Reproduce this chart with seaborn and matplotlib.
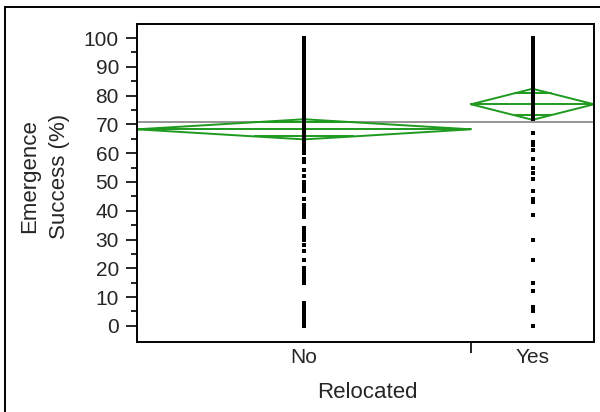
import numpy as np
import pandas as pd
import seaborn as sns
import matplotlib
matplotlib.use("Agg")
import matplotlib.pyplot as plt
from matplotlib.patches import Rectangle

# ---------------- data ----------------
categories = ["No", "Yes"]
group_share = [0.731, 0.269]          # share of x-axis width (proportional to sample size)

no_values = [100, 99, 98, 97, 96, 95, 94, 93, 92, 91, 90, 89, 88, 87, 86, 85, 84, 83, 82,
             81, 80, 79, 78, 77, 76, 75, 74, 73, 72, 71, 70, 69, 68, 67, 66, 65, 64, 63,
             62, 61, 60, 58, 57, 54, 52, 50, 49, 48, 47, 44, 42, 41, 40, 39, 38,
             34, 33, 32, 31, 30, 28, 26, 23, 20, 19, 18, 17, 16, 15, 8, 7, 6, 4.5,
             3, 2, 1, 0]
yes_values = [100, 99, 98, 97, 96, 95, 94, 93, 92, 91, 90, 89, 88, 87, 86, 85, 84, 83, 82,
              81, 80, 79, 78, 77, 76, 75, 74, 73, 72,
              67, 64, 63, 61, 58, 55, 53, 51, 47, 44, 43, 38.5, 30, 23, 15, 12, 6.5, 5, 0]

group_means = [68.3, 77.0]
group_ci_half = [3.5, 5.4]
grand_mean = 70.7

y_ticks = [0, 10, 20, 30, 40, 50, 60, 70, 80, 90, 100]

# ---------------- figure ----------------
sns.set_theme(style="white")
plt.rcParams["font.family"] = ["Liberation Sans", "DejaVu Sans"]

fig = plt.figure(figsize=(6.0, 4.12), dpi=100)
ax = fig.add_axes([137 / 600, 1 - 342 / 412, 457 / 600, 318 / 412])

# category bounds
edges = np.concatenate([[0], np.cumsum(group_share)])
centers = (edges[:-1] + edges[1:]) / 2

rows = []
for cat, c, vals in zip(categories, centers, [no_values, yes_values]):
    for v in vals:
        rows.append({"Relocated": cat, "x": c, "y": v})
df = pd.DataFrame(rows)

green = "#1e9a1e"

# grand mean line
ax.axhline(grand_mean, color="#8c8c8c", lw=1.3, zorder=1)

# means diamonds
for i in range(len(categories)):
    x0, x1 = edges[i], edges[i + 1]
    xm = centers[i]
    m, h = group_means[i], group_ci_half[i]
    ax.plot([x0, xm, x1, xm, x0], [m, m + h, m, m - h, m], color=green, lw=1.4, zorder=2,
            solid_joinstyle="miter")
    ax.plot([x0, x1], [m, m], color=green, lw=1.4, zorder=2)
    # overlap marks
    off = h / np.sqrt(2)
    frac = (1 - 1 / np.sqrt(2)) * (x1 - x0) / 2
    for yy in (m + off, m - off):
        ax.plot([xm - frac, xm + frac], [yy, yy], color=green, lw=1.4, zorder=2)

sns.scatterplot(data=df, x="x", y="y", marker="s", s=8, color="black",
                linewidth=0, ax=ax, zorder=3, legend=False)

ax.set_xlim(0, 1)
ax.set_ylim(-5.6, 104.9)
ax.set_yticks(y_ticks)
ax.set_yticklabels([str(t) for t in y_ticks], fontsize=15)
ax.set_yticks(np.arange(5, 100, 10), minor=True)
ax.tick_params(axis="y", which="major", direction="out", length=8, width=1.2, left=True,
               color="black", pad=5)
ax.tick_params(axis="y", which="minor", direction="out", length=4, width=1.2, left=True,
               color="black")

# x ticks: separators as ticks, labels at centers
ax.set_xticks(edges[1:-1])
ax.set_xticklabels([""] * (len(edges) - 2))
ax.tick_params(axis="x", which="major", direction="out", length=8, width=1.2, bottom=True,
               color="black")
for c, cat in zip(centers, categories):
    ax.text(c, -0.02, cat, transform=ax.get_xaxis_transform(), ha="center", va="top",
            fontsize=15)

for s in ax.spines.values():
    s.set_color("black")
    s.set_linewidth(1.4)
    s.set_visible(True)

ax.set_xlabel("")
ax.set_ylabel("")
fig.text(367 / 600, 1 - 393 / 412, "Relocated", ha="center", va="center", fontsize=16)
fig.text(45 / 600, 1 - 176 / 412, "Emergence\nSuccess (%)", ha="center", va="center",
         rotation=90, fontsize=16, linespacing=1.55)

# outer frame
fig.patches.append(Rectangle((5 / 600, -0.2), 2.0, 1 - 7 / 412 + 0.2,
                             transform=fig.transFigure, fill=False, edgecolor="black",
                             lw=1.4, zorder=0))

fig.savefig("out.png", dpi=100)
